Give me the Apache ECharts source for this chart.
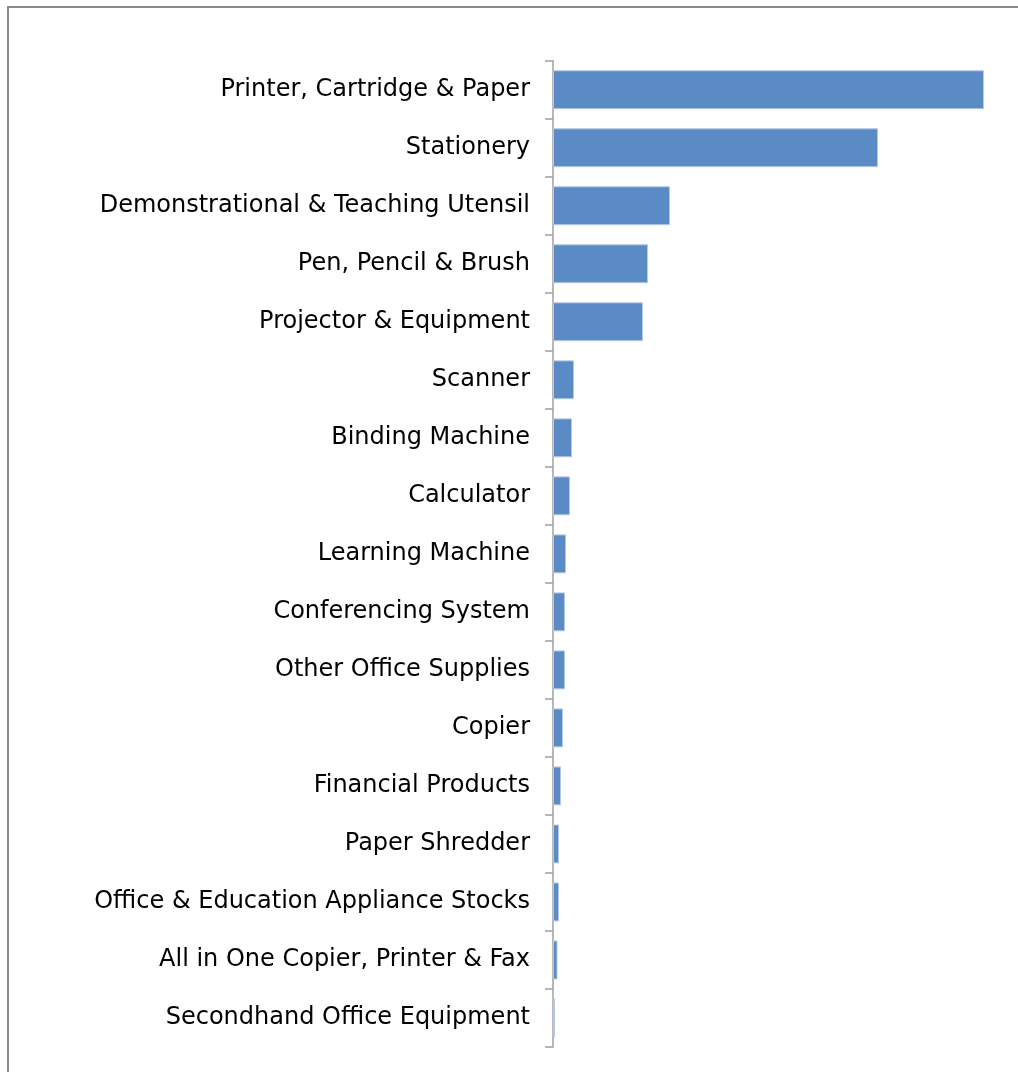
<!DOCTYPE html>
<html>
<head>
<meta charset="utf-8">
<script src="https://cdn.jsdelivr.net/npm/echarts@6/dist/echarts.min.js"></script>
<style>html,body{margin:0;padding:0;background:#fff;}#c{width:1018px;height:1072px;}</style>
</head>
<body>
<div id="c"></div>
<script>
const categories = [
  "Printer, Cartridge & Paper",
  "Stationery",
  "Demonstrational & Teaching Utensil",
  "Pen, Pencil & Brush",
  "Projector & Equipment",
  "Scanner",
  "Binding Machine",
  "Calculator",
  "Learning Machine",
  "Conferencing System",
  "Other Office Supplies",
  "Copier",
  "Financial Products",
  "Paper Shredder",
  "Office & Education Appliance Stocks",
  "All in One Copier, Printer & Fax",
  "Secondhand Office Equipment"
];
const values = [431, 325, 117, 95, 90, 21, 19, 17, 13, 12, 12, 10, 8, 6, 6, 4.5, 2];
const valueMax = 450;

const chart = echarts.init(document.getElementById('c'), null, {renderer: 'canvas'});
chart.setOption({
  animation: false,
  backgroundColor: '#fff',
  graphic: [{
    type: 'rect',
    shape: {x: 8, y: 7, width: 1200, height: 1200},
    style: {fill: 'none', stroke: '#8a8a8a', lineWidth: 2},
    silent: true
  }],
  grid: {left: 553, top: 60.7, width: 450, bottom: 25, containLabel: false},
  xAxis: {
    type: 'value', min: 0, max: valueMax, show: false
  },
  yAxis: {
    type: 'category',
    data: categories,
    inverse: true,
    axisLine: {show: true, lineStyle: {color: '#a0a0a0', width: 1.5}},
    axisTick: {show: true, length: 8, lineStyle: {color: '#a0a0a0', width: 1.5}},
    axisLabel: {color: '#000', fontFamily: 'DejaVu Sans', fontSize: 24, margin: 23}
  },
  series: [{
    type: 'bar',
    data: values,
    barCategoryGap: '33%',
    itemStyle: {color: '#5a8bc5', borderColor: '#b3c9e6', borderWidth: 1}
  }]
});
</script>
</body>
</html>
